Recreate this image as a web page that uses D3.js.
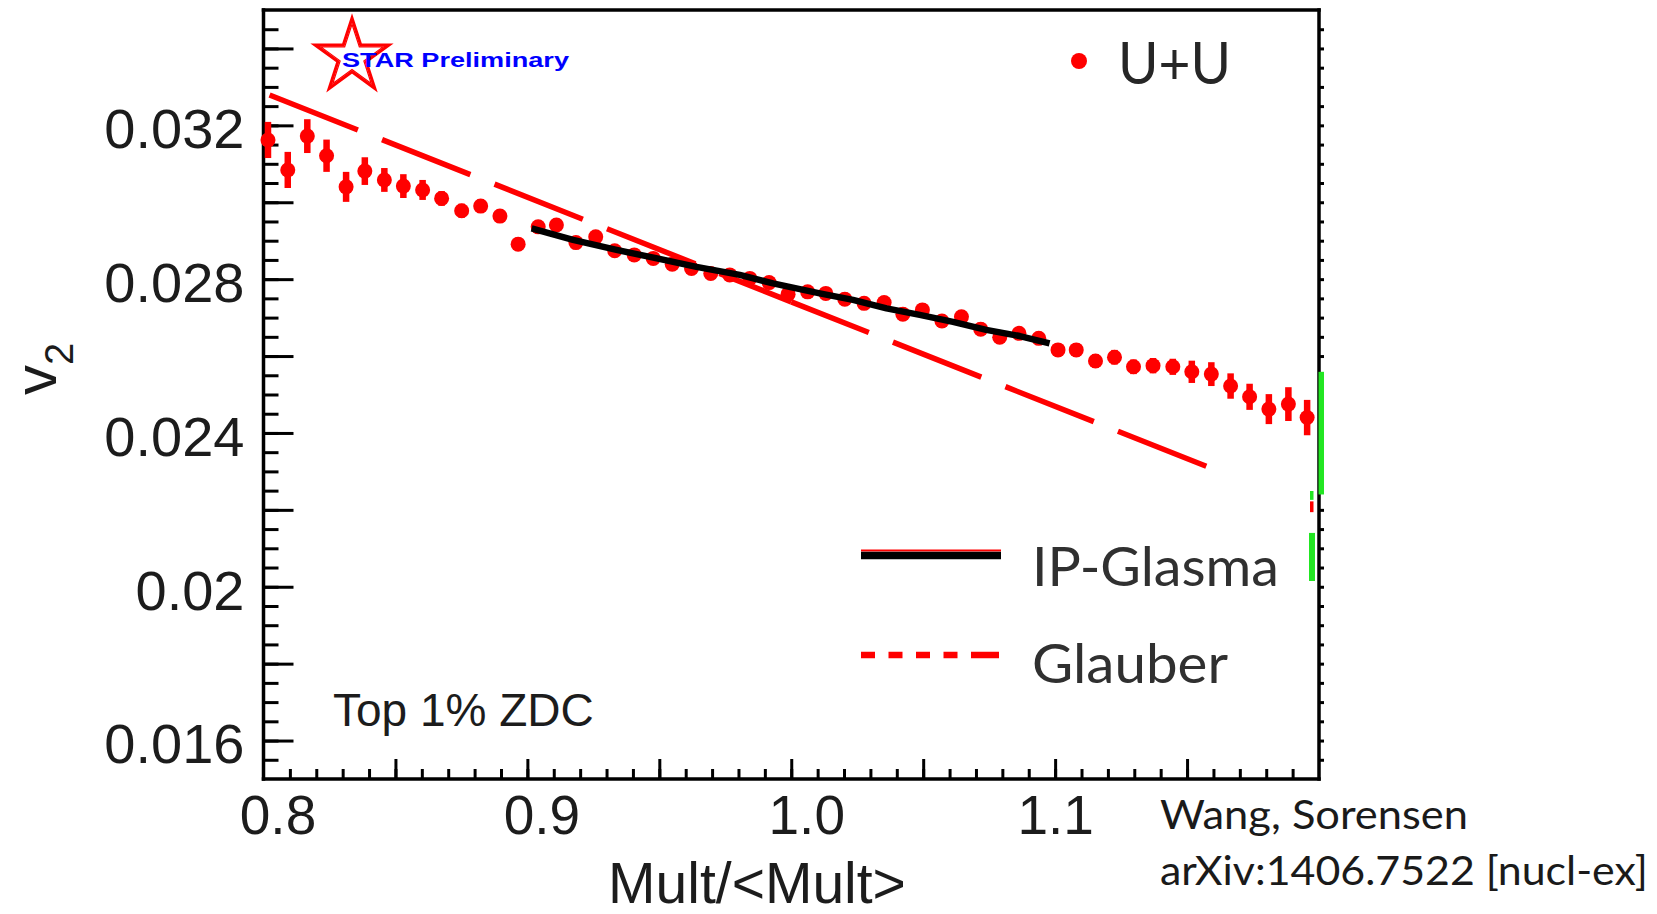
<!DOCTYPE html>
<html>
<head>
<meta charset="utf-8">
<script src="https://cdn.jsdelivr.net/npm/d3@7"></script>
<style>
  html, body { margin: 0; padding: 0; background: #fff; }
  svg { display: block; }
</style>
</head>
<body>
<script>
// v2 vs Mult/<Mult> for U+U, top 1% ZDC (STAR preliminary) with model curves

// measured points
var multX = [
  0.8017, 0.8092, 0.8166, 0.8239, 0.8313, 0.8384, 0.8458, 0.8530, 0.8603, 0.8675,
  0.8751, 0.8823, 0.8896, 0.8965, 0.9041, 0.9110, 0.9184, 0.9259, 0.9331, 0.9405,
  0.9477, 0.9549, 0.9622, 0.9695, 0.9767, 0.9843, 0.9916, 0.9988, 1.0062, 1.0131,
  1.0203, 1.0276, 1.0352, 1.0423, 1.0497, 1.0571, 1.0645, 1.0718, 1.0790, 1.0863,
  1.0938, 1.1011, 1.1080, 1.1153, 1.1225, 1.1297, 1.1371, 1.1446, 1.1518, 1.1592,
  1.1665, 1.1737, 1.1810, 1.1884, 1.1955
];
var v2 = [
  0.03162, 0.03084, 0.03172, 0.03121, 0.03040, 0.03081, 0.03058, 0.03042, 0.03032, 0.03010,
  0.02978, 0.02990, 0.02964, 0.02891, 0.02936, 0.02941, 0.02895, 0.02910, 0.02874, 0.02863,
  0.02854, 0.02839, 0.02828, 0.02815, 0.02811, 0.02802, 0.02791, 0.02761, 0.02767, 0.02763,
  0.02748, 0.02737, 0.02739, 0.02709, 0.02720, 0.02691, 0.02702, 0.02670, 0.02649, 0.02659,
  0.02646, 0.02616, 0.02616, 0.02587, 0.02597, 0.02572, 0.02575, 0.02572, 0.02559, 0.02553,
  0.02522, 0.02494, 0.02462, 0.02475, 0.02440
];
var v2Err = [
  0.00047, 0.00047, 0.00044, 0.00042, 0.00039, 0.00036, 0.00031, 0.00031, 0.00026, 0.00019,
  0.00018, 0.00018, 0.00017, 0.00017, 0.00016, 0.00016, 0.00016, 0.00016, 0.00016, 0.00016,
  0.00016, 0.00016, 0.00016, 0.00016, 0.00016, 0.00016, 0.00016, 0.00016, 0.00016, 0.00016,
  0.00017, 0.00017, 0.00017, 0.00017, 0.00017, 0.00017, 0.00017, 0.00017, 0.00017, 0.00017,
  0.00017, 0.00017, 0.00018, 0.00018, 0.00019, 0.00019, 0.00020, 0.00021, 0.00029, 0.00031,
  0.00033, 0.00034, 0.00039, 0.00044, 0.00046
];

// IP-Glasma curve
var glasmaX = [0.9016, 0.9173, 0.9338, 0.9464, 0.9641, 0.9805, 0.9931, 1.0108,
               1.0234, 1.0361, 1.0487, 1.0613, 1.0739, 1.0866, 1.0979];
var glasmaV2 = [0.02932, 0.02902, 0.02876, 0.02858, 0.02832, 0.02811, 0.02789, 0.02763,
                0.02746, 0.02724, 0.02707, 0.02689, 0.02668, 0.02652, 0.02633];

// Glauber curve
var glauberX = [0.8023, 1.0, 1.1593];
var glauberV2 = [0.03279, 0.02741, 0.02308];

// cut-off boxes against the right frame
var edgeLow = [0.02240, 0.02015, 0.02226, 0.02194];
var edgeHigh = [0.02559, 0.02140, 0.02249, 0.02222];

var xTickLabels = [0.8, 0.9, 1.0, 1.1];
var yTickLabels = [0.016, 0.02, 0.024, 0.028, 0.032];

var W = 1657, H = 914;
var plot = {left: 263.5, right: 1319, top: 10, bottom: 779};
var RED = "#ff0000";
var TXT = "#1c1c1c";
var HELV = "'Liberation Sans', Arial, Helvetica, sans-serif";
var HUMAN = "Lato, 'Open Sans', sans-serif";

var svg = d3.select("body").append("svg")
    .attr("width", W)
    .attr("height", H);

var x = d3.scaleLinear().domain([0.8, 1.2]).range([plot.left, plot.right]);
var y = d3.scaleLinear().domain([0.015, 0.035]).range([plot.bottom, plot.top]);

// ---- axes ----
function tickStyle(g) {
  g.select(".domain").remove();
  g.selectAll(".tick line").attr("stroke", "#000").attr("stroke-width", 3);
}

var yMinor = d3.range(0.0155, 0.0349, 0.0005);
var yMajor = d3.range(0.016, 0.0349, 0.002);
var xMinor = d3.range(0.81, 1.195, 0.01);
var xMajor = [0.85, 0.9, 0.95, 1.0, 1.05, 1.1, 1.15];

svg.append("g")
    .attr("transform", "translate(" + plot.left + ",0)")
    .call(d3.axisLeft(y).tickValues(yMinor).tickSize(-15).tickFormat(""))
    .call(tickStyle);
svg.append("g")
    .attr("transform", "translate(" + plot.left + ",0)")
    .call(d3.axisLeft(y).tickValues(yMajor).tickSize(-30).tickFormat(""))
    .call(tickStyle);
svg.append("g")
    .attr("transform", "translate(" + plot.right + ",0)")
    .call(d3.axisRight(y).tickValues(yMinor).tickSize(5).tickFormat(""))
    .call(tickStyle);

svg.append("g")
    .attr("transform", "translate(0," + plot.bottom + ")")
    .call(d3.axisBottom(x).tickValues(xMinor).tickSize(-10).tickFormat(""))
    .call(tickStyle);
svg.append("g")
    .attr("transform", "translate(0," + plot.bottom + ")")
    .call(d3.axisBottom(x).tickValues(xMajor).tickSize(-20).tickFormat(""))
    .call(tickStyle);

// tick labels
var yLab = svg.append("g")
    .attr("transform", "translate(" + plot.left + ",0)")
    .call(d3.axisLeft(y).tickValues(yTickLabels).tickSize(0).tickPadding(19)
      .tickFormat(function(d) { return String(+d.toFixed(3)); }));
yLab.select(".domain").remove();
yLab.attr("font-size", 56).attr("font-family", HELV);
yLab.selectAll("text").attr("fill", TXT).attr("dy", "0.4em");

var xLabShift = {"0.8": 14, "0.9": 14, "1": 15, "1.1": 0};
var xLab = svg.append("g")
    .attr("transform", "translate(0," + plot.bottom + ")")
    .call(d3.axisBottom(x).tickValues(xTickLabels).tickSize(0).tickFormat(d3.format(".1f")));
xLab.select(".domain").remove();
xLab.attr("font-size", 55).attr("font-family", HELV);
xLab.selectAll("text")
    .attr("fill", TXT)
    .attr("dy", null)
    .attr("y", 55)
    .attr("x", function(d) { return xLabShift[String(d)] || 0; });

// frame
var frame = svg.append("g").attr("stroke", "#000").attr("stroke-width", 3.5)
    .attr("stroke-linecap", "square");
frame.append("line").attr("x1", plot.left).attr("x2", plot.left).attr("y1", plot.top).attr("y2", plot.bottom);
frame.append("line").attr("x1", plot.left).attr("x2", plot.right).attr("y1", plot.bottom).attr("y2", plot.bottom);
frame.append("line").attr("x1", plot.left).attr("x2", plot.right).attr("y1", plot.top).attr("y2", plot.top);
frame.append("line").attr("x1", plot.right).attr("x2", plot.right).attr("y1", plot.top).attr("y2", plot.bottom);

// boxes on the right edge
var edgeStyle = [
  {x0: 1318.5, w: 5.5, fill: "#22e622"},
  {x0: 1309, w: 6, fill: "#22e622"},
  {x0: 1310, w: 3.5, fill: "#22e622"},
  {x0: 1310, w: 3.5, fill: RED}
];
svg.append("g").selectAll("rect")
  .data(edgeLow)
  .enter()
  .append("rect")
    .attr("x", function(d, i) { return edgeStyle[i].x0; })
    .attr("width", function(d, i) { return edgeStyle[i].w; })
    .attr("y", function(d, i) { return y(edgeHigh[i]); })
    .attr("height", function(d, i) { return y(d) - y(edgeHigh[i]); })
    .attr("fill", function(d, i) { return edgeStyle[i].fill; });

// axis titles
svg.append("text")
    .attr("x", 757)
    .attr("y", 903)
    .attr("text-anchor", "middle")
    .attr("font-family", HELV)
    .attr("font-size", 57)
    .attr("fill", TXT)
    .text("Mult/<Mult>");

var v2Title = svg.append("text")
    .attr("transform", "translate(56,395) rotate(-90)")
    .attr("font-family", HELV)
    .attr("font-size", 60)
    .attr("fill", TXT);
v2Title.append("tspan").text("v");
v2Title.append("tspan").attr("font-size", 40).attr("dy", 17).text("2");

// ---- Glauber (long dashes) ----
var line = d3.line()
    .x(function(d) { return x(d[0]); })
    .y(function(d) { return y(d[1]); });

var glauber = glauberX.map(function(d, i) { return [d, glauberV2[i]]; });
svg.append("path")
    .attr("d", line(glauber.slice(0, 2)))
    .attr("fill", "none")
    .attr("stroke", RED)
    .attr("stroke-width", 5.5)
    .attr("stroke-dasharray", "95,26");
svg.append("path")
    .attr("d", line(glauber.slice(1)))
    .attr("fill", "none")
    .attr("stroke", RED)
    .attr("stroke-width", 5.5)
    .attr("stroke-dasharray", "95,26")
    .attr("stroke-dashoffset", 11.6);

// ---- data points ----
var pts = svg.append("g");
pts.selectAll("line")
  .data(multX)
  .enter()
  .append("line")
    .attr("x1", function(d) { return x(d); })
    .attr("x2", function(d) { return x(d); })
    .attr("y1", function(d, i) { return y(v2[i] - v2Err[i]); })
    .attr("y2", function(d, i) { return y(v2[i] + v2Err[i]); })
    .attr("stroke", RED)
    .attr("stroke-width", 6.5);
pts.selectAll("circle")
  .data(multX)
  .enter()
  .append("circle")
    .attr("cx", function(d) { return x(d); })
    .attr("cy", function(d, i) { return y(v2[i]); })
    .attr("r", 7.5)
    .attr("fill", RED);

// ---- IP-Glasma (solid black) ----
svg.append("path")
    .attr("d", line(glasmaX.map(function(d, i) { return [d, glasmaV2[i]]; })))
    .attr("fill", "none")
    .attr("stroke", "#000")
    .attr("stroke-width", 6.5)
    .attr("stroke-linejoin", "round");

// ---- STAR logo ----
var star = d3.symbol().type(d3.symbolStar);
svg.append("path")
    .attr("transform", "translate(352,57)")
    .attr("d", star.size(1700)())
    .attr("fill", "#fff")
    .attr("stroke", RED)
    .attr("stroke-width", 3);
svg.append("path")
    .attr("transform", "translate(352,57)")
    .attr("d", star.size(1200)())
    .attr("fill", "none")
    .attr("stroke", RED)
    .attr("stroke-width", 1.2);
svg.append("text")
    .attr("x", 342)
    .attr("y", 67)
    .attr("font-family", HELV)
    .attr("font-weight", "bold")
    .attr("font-size", 21)
    .attr("fill", "#0000ff")
    .attr("textLength", 227)
    .attr("lengthAdjust", "spacingAndGlyphs")
    .text("STAR Preliminary");

// ---- labels and legend ----
svg.append("text")
    .attr("x", 333)
    .attr("y", 726)
    .attr("font-family", HELV)
    .attr("font-size", 46)
    .attr("fill", TXT)
    .text("Top 1% ZDC");

svg.append("circle")
    .attr("cx", 1079)
    .attr("cy", 61)
    .attr("r", 8)
    .attr("fill", RED);
svg.append("text")
    .attr("x", 1118)
    .attr("y", 84)
    .attr("font-family", HUMAN)
    .attr("font-size", 58)
    .attr("fill", "#262626")
    .attr("textLength", 113)
    .attr("lengthAdjust", "spacingAndGlyphs")
    .text("U+U");

svg.append("line")
    .attr("x1", 861).attr("x2", 1001)
    .attr("y1", 550.5).attr("y2", 550.5)
    .attr("stroke", RED).attr("stroke-width", 2);
svg.append("line")
    .attr("x1", 861).attr("x2", 1001)
    .attr("y1", 555.5).attr("y2", 555.5)
    .attr("stroke", "#000").attr("stroke-width", 7.5);
svg.append("text")
    .attr("x", 1032)
    .attr("y", 586)
    .attr("font-family", HUMAN)
    .attr("font-size", 54)
    .attr("fill", "#303030")
    .attr("textLength", 247)
    .attr("lengthAdjust", "spacingAndGlyphs")
    .text("IP-Glasma");

svg.append("line")
    .attr("x1", 861).attr("x2", 999)
    .attr("y1", 655).attr("y2", 655)
    .attr("stroke", RED).attr("stroke-width", 6.5)
    .attr("stroke-dasharray", "14,13.5,14,13.5,14,13.5,14,13.5,28");
svg.append("text")
    .attr("x", 1032)
    .attr("y", 683)
    .attr("font-family", HUMAN)
    .attr("font-size", 54)
    .attr("fill", "#303030")
    .attr("textLength", 196)
    .attr("lengthAdjust", "spacingAndGlyphs")
    .text("Glauber");

svg.append("text")
    .attr("x", 1160)
    .attr("y", 829)
    .attr("font-family", HUMAN)
    .attr("font-size", 40)
    .attr("fill", "#1a1a1a")
    .attr("textLength", 308)
    .attr("lengthAdjust", "spacingAndGlyphs")
    .text("Wang, Sorensen");
svg.append("text")
    .attr("x", 1160)
    .attr("y", 885)
    .attr("font-family", HUMAN)
    .attr("font-size", 40)
    .attr("fill", "#1a1a1a")
    .attr("textLength", 488)
    .attr("lengthAdjust", "spacingAndGlyphs")
    .text("arXiv:1406.7522 [nucl-ex]");
</script>
</body>
</html>
